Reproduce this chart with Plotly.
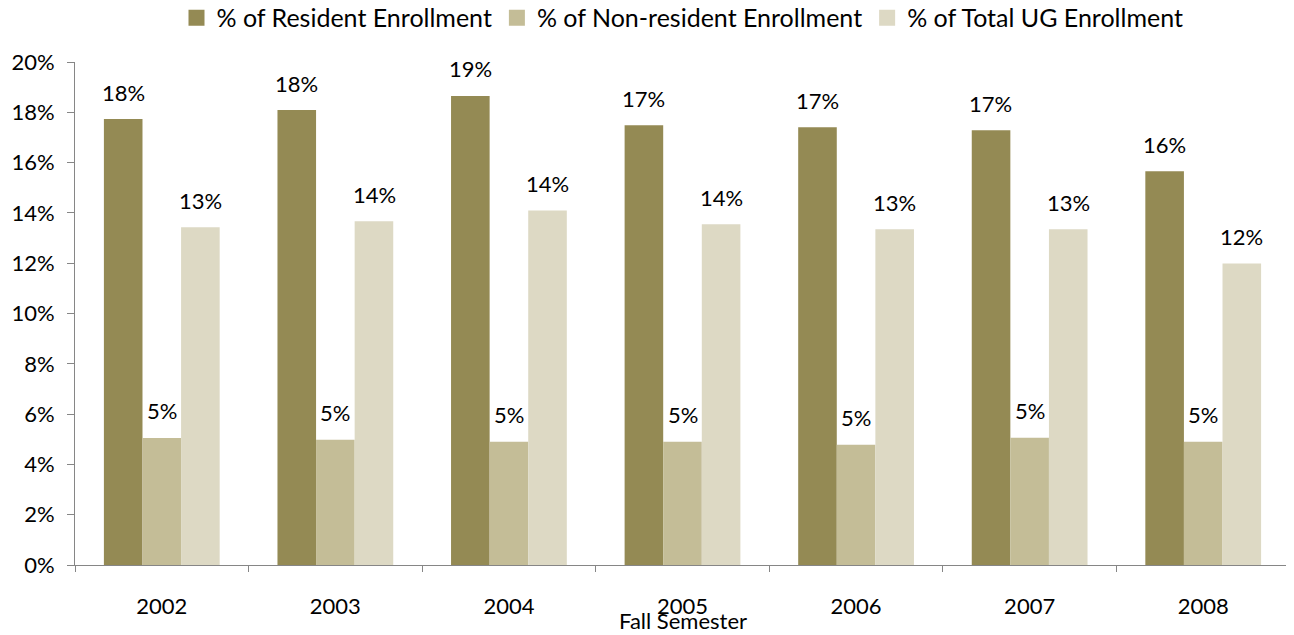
import plotly.graph_objects as go

years = ["2002", "2003", "2004", "2005", "2006", "2007", "2008"]
resident = [17.73, 18.09, 18.65, 17.49, 17.41, 17.29, 15.66]
nonresident = [5.05, 4.98, 4.9, 4.9, 4.78, 5.06, 4.9]
total_ug = [13.43, 13.67, 14.1, 13.55, 13.35, 13.35, 11.99]

series_names = ["% of Resident Enrollment", "% of Non-resident Enrollment", "% of Total UG Enrollment"]
series_values = [resident, nonresident, total_ug]
colors = ["#948A54", "#C4BD97", "#DDD9C4"]

FONT = "Lato"
fig = go.Figure()
for name, vals, col in zip(series_names, series_values, colors):
    fig.add_trace(go.Bar(x=years, y=vals, name=name, showlegend=False,
                         marker=dict(color=col, line=dict(width=0))))
# legend entries with larger square symbols
for name, col in zip(series_names, colors):
    fig.add_trace(go.Scatter(x=[years[0]], y=[None], mode="markers", name=name,
                             marker=dict(symbol="square", size=16, color=col)))

# data labels above bars (x given as category index)
offsets = [-38.7, 0, 38.7]
for vals, dx in zip(series_values, offsets):
    for i, v in enumerate(vals):
        fig.add_annotation(x=i, y=v, xref="x", yref="y", text=f"{round(v):.0f}%",
                           showarrow=False, xshift=dx, yshift=27, yanchor="middle",
                           font=dict(family=FONT, size=22, color="black"))

fig.add_annotation(x=0.5, y=0, xref="paper", yref="paper", text="Fall Semester",
                   showarrow=False, yshift=-55, yanchor="middle",
                   font=dict(family=FONT, size=22, color="black"))

fig.update_layout(
    width=1286, height=627,
    margin=dict(l=67, r=4, t=54, b=70, autoexpand=False),
    paper_bgcolor="white", plot_bgcolor="white",
    barmode="group", bargap=0.333, bargroupgap=0,
    font=dict(family=FONT, size=22, color="black"),
    showlegend=True,
    legend=dict(orientation="h", x=0.5, xanchor="center", xref="paper",
                y=1.0875, yref="paper", yanchor="middle",
                font=dict(family=FONT, size=25, color="black"),
                itemwidth=30, traceorder="normal", itemclick=False),
    xaxis=dict(type="category", categoryorder="array", categoryarray=years,
               range=[-0.5, len(years) - 0.5],
               showline=True, linecolor="#868686", linewidth=1, ticks="outside",
               tickson="boundaries", ticklen=6, tickcolor="#868686",
               showgrid=False, tickfont=dict(size=22), ticklabelstandoff=22),
    yaxis=dict(range=[0, 20], dtick=2, ticksuffix="%", showline=True, linecolor="#868686",
               linewidth=1, ticks="outside", ticklen=7, tickcolor="#868686",
               showgrid=False, zeroline=False, tickfont=dict(size=22), ticklabelstandoff=8),
)

fig.write_html("out.html")
